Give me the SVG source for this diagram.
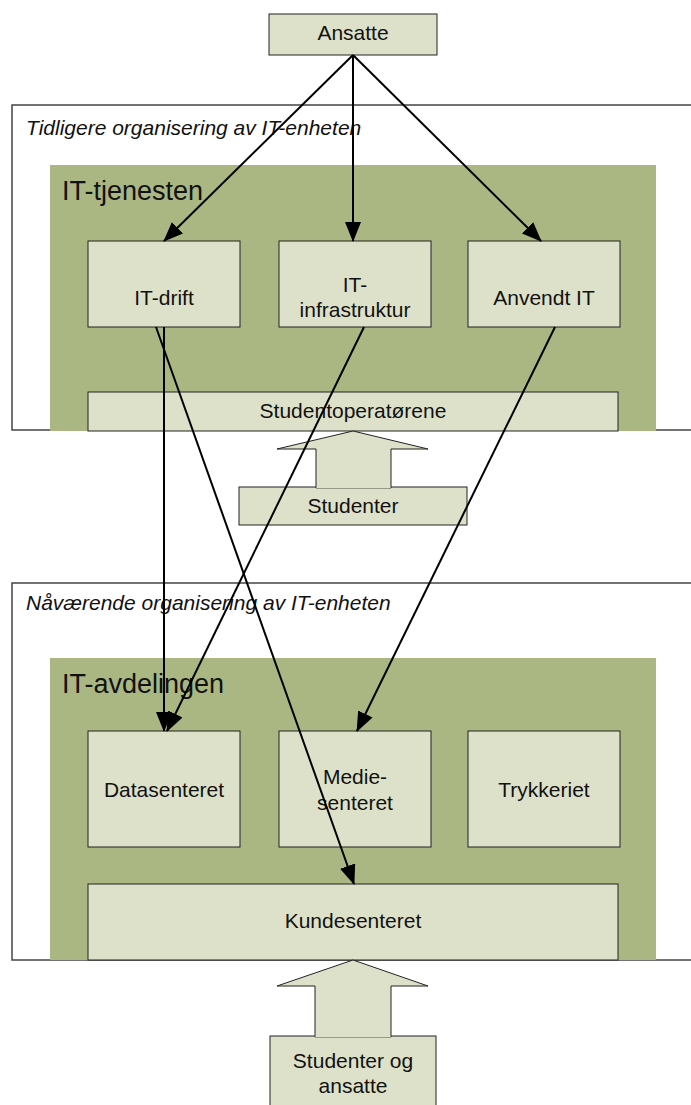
<svg xmlns="http://www.w3.org/2000/svg" width="691" height="1105" viewBox="0 0 691 1105">
  <style>
    text { font-family: "Liberation Sans", Arial, sans-serif; fill: #111; }
    .t { font-size: 21px; text-anchor: middle; }
    .cap { font-size: 21px; font-style: italic; }
    .title { font-size: 27px; }
    .frame { fill: #fff; stroke: #444; stroke-width: 1.5; }
    .unit { fill: #aab783; }
    .box { fill: #dee1ca; stroke: #222; stroke-width: 1; }
    .conn { fill: none; stroke: #000; stroke-width: 2; marker-end: url(#head); }
  </style>
  <defs>
    <marker id="head" viewBox="0 0 20 16" refX="19" refY="8" markerWidth="20" markerHeight="16" markerUnits="userSpaceOnUse" orient="auto">
      <path d="M0,0 L20,8 L0,16 Z" fill="#000"/>
    </marker>
  </defs>

  <rect width="691" height="1105" fill="#fff"/>

  <!-- Ansatte -->
  <g id="ansatte">
    <rect class="box" x="269" y="14" width="168" height="41"/>
    <text class="t" x="353" y="40">Ansatte</text>
  </g>

  <!-- Earlier organisation -->
  <g id="tidligere">
    <rect class="frame" x="12" y="105" width="700" height="325"/>
    <text class="cap" x="26" y="135">Tidligere organisering av IT-enheten</text>
  </g>
  <g id="it-tjenesten">
    <rect class="unit" x="50" y="165" width="606" height="266"/>
    <text class="title" x="62" y="200">IT-tjenesten</text>
  </g>
  <g id="it-drift">
    <rect class="box" x="88" y="241" width="152" height="86"/>
    <text class="t" x="164" y="305">IT-drift</text>
  </g>
  <g id="it-infrastruktur">
    <rect class="box" x="279" y="241" width="152" height="86"/>
    <text class="t" x="355" y="292">IT-</text>
    <text class="t" x="355" y="317">infrastruktur</text>
  </g>
  <g id="anvendt-it">
    <rect class="box" x="468" y="241" width="152" height="86"/>
    <text class="t" x="544" y="305">Anvendt IT</text>
  </g>
  <g id="studentoperatorene">
    <rect class="box" x="88" y="392" width="530" height="39"/>
    <text class="t" x="353" y="418">Studentoperatørene</text>
  </g>
  <g id="studenter">
    <rect class="box" x="239" y="487" width="228" height="38"/>
    <path class="box" d="M353,431 L428,449 L391,449 L391,488 L316,488 L316,449 L277,449 Z"/>
    <path d="M316.5,487.5 L390.5,487.5" stroke="#dee1ca" stroke-width="1.5"/>
    <text class="t" x="353" y="513">Studenter</text>
  </g>

  <!-- Current organisation -->
  <g id="naavaerende">
    <rect class="frame" x="12" y="583" width="700" height="377"/>
    <text class="cap" x="26" y="610">Nåværende organisering av IT-enheten</text>
  </g>
  <g id="it-avdelingen">
    <rect class="unit" x="50" y="658" width="606" height="302"/>
    <text class="title" x="62" y="693">IT-avdelingen</text>
  </g>
  <g id="datasenteret">
    <rect class="box" x="88" y="731" width="152" height="116"/>
    <text class="t" x="164" y="797">Datasenteret</text>
  </g>
  <g id="mediesenteret">
    <rect class="box" x="279" y="731" width="152" height="116"/>
    <text class="t" x="355" y="784">Medie-</text>
    <text class="t" x="355" y="810">senteret</text>
  </g>
  <g id="trykkeriet">
    <rect class="box" x="468" y="731" width="152" height="116"/>
    <text class="t" x="544" y="797">Trykkeriet</text>
  </g>
  <g id="kundesenteret">
    <rect class="box" x="88" y="884" width="530" height="76"/>
    <text class="t" x="353" y="928">Kundesenteret</text>
  </g>
  <g id="studenter-og-ansatte">
    <rect class="box" x="270" y="1036" width="166" height="80"/>
    <path class="box" d="M353,960 L428,986 L391,986 L391,1037 L315,1037 L315,986 L277,986 Z"/>
    <path d="M315.5,1036.5 L390.5,1036.5" stroke="#dee1ca" stroke-width="1.5"/>
    <text class="t" x="353" y="1068">Studenter og</text>
    <text class="t" x="353" y="1093">ansatte</text>
  </g>

  <!-- Connectors -->
  <g id="connectors">
    <path class="conn" d="M353,55 L164,241"/>
    <path class="conn" d="M353,55 L353,241"/>
    <path class="conn" d="M353,55 L541,241"/>
    <path class="conn" d="M164,327 L164,731"/>
    <path class="conn" d="M156,327 L354,884"/>
    <path class="conn" d="M364,327 L167,731"/>
    <path class="conn" d="M555,327 L357,731"/>
  </g>
</svg>
